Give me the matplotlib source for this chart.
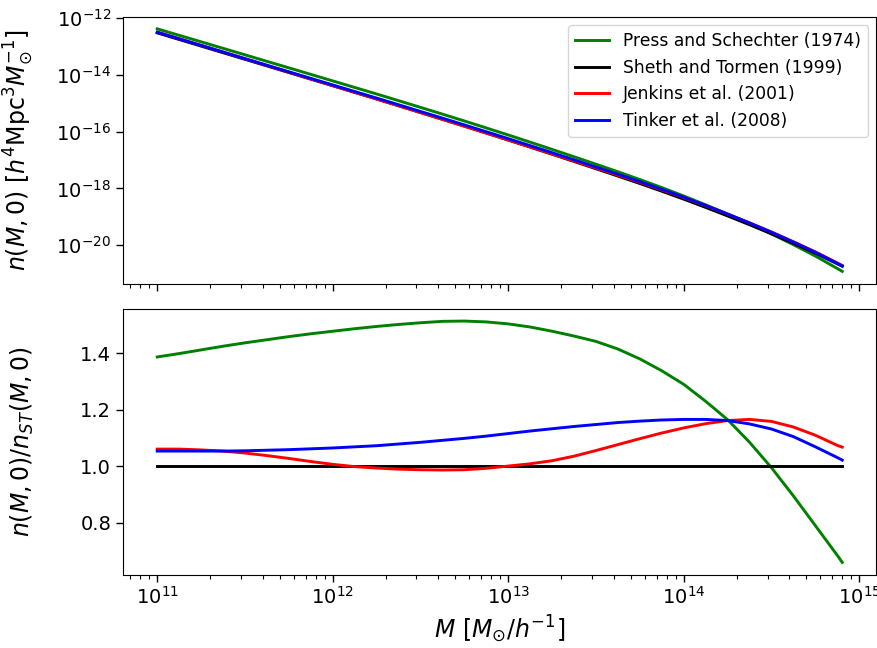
import numpy as np
import matplotlib
matplotlib.use("Agg")
import matplotlib.pyplot as plt
from matplotlib.ticker import LogLocator, NullLocator

# log10 of halo mass M [M_sun / h^-1]
log_mass = [11.0, 11.125, 11.25, 11.375, 11.5, 11.625, 11.75, 11.875,
            12.0, 12.125, 12.25, 12.375, 12.5, 12.625, 12.75, 12.875,
            13.0, 13.125, 13.25, 13.375, 13.5, 13.625, 13.75, 13.875,
            14.0, 14.125, 14.25, 14.375, 14.5, 14.625, 14.75, 14.875, 14.903]

# Sheth & Tormen (1999) mass function, log10 n(M,0)
log_n_st = [-12.53, -12.763, -12.995, -13.228, -13.46, -13.693, -13.925, -14.158,
            -14.39, -14.623, -14.855, -15.092, -15.33, -15.569, -15.81, -16.054,
            -16.30, -16.549, -16.80, -17.054, -17.31, -17.568, -17.83, -18.10,
            -18.38, -18.67, -18.97, -19.28, -19.60, -19.935, -20.28, -20.655, -20.74]

# ratios to Sheth & Tormen
ratio_ps = [1.387, 1.399, 1.412, 1.425, 1.437, 1.448, 1.459, 1.469,
            1.478, 1.487, 1.495, 1.502, 1.508, 1.513, 1.514, 1.511,
            1.504, 1.493, 1.478, 1.461, 1.442, 1.415, 1.380, 1.338,
            1.290, 1.230, 1.165, 1.085, 0.995, 0.895, 0.790, 0.685, 0.660]
ratio_st = [1.0] * 33
ratio_jenkins = [1.061, 1.061, 1.058, 1.054, 1.047, 1.038, 1.028, 1.017,
                 1.007, 0.999, 0.994, 0.990, 0.988, 0.987, 0.988, 0.993,
                 1.001, 1.009, 1.020, 1.036, 1.056, 1.077, 1.098, 1.118,
                 1.136, 1.151, 1.162, 1.166, 1.159, 1.139, 1.110, 1.074, 1.068]
ratio_tinker = [1.054, 1.054, 1.054, 1.054, 1.055, 1.057, 1.059, 1.062,
                1.065, 1.069, 1.073, 1.079, 1.085, 1.092, 1.099, 1.107,
                1.116, 1.125, 1.133, 1.141, 1.148, 1.155, 1.160, 1.164,
                1.166, 1.166, 1.162, 1.150, 1.132, 1.105, 1.069, 1.031, 1.022]

labels = ["Press and Schechter (1974)", "Sheth and Tormen (1999)",
          "Jenkins et al. (2001)", "Tinker et al. (2008)"]
colors = ["green", "black", "red", "blue"]

M = 10.0 ** np.array(log_mass)
n_st = 10.0 ** np.array(log_n_st)
ratios = [np.array(ratio_ps), np.array(ratio_st), np.array(ratio_jenkins), np.array(ratio_tinker)]

W, H = 878, 648
fig = plt.figure(figsize=(W / 100, H / 100), dpi=100)
ax1 = fig.add_axes([123 / W, 1 - 283.5 / H, (876.5 - 123) / W, (283.5 - 16.7) / H])
ax2 = fig.add_axes([123 / W, 1 - 574.5 / H, (876.5 - 123) / W, (574.5 - 309) / H], sharex=ax1)

for r, lab, c in zip(ratios, labels, colors):
    ax1.plot(M, n_st * r, color=c, lw=2.1, label=lab)
    ax2.plot(M, r, color=c, lw=2.1)

ax1.set_xscale("log")
ax1.set_yscale("log")
ax1.yaxis.set_major_locator(LogLocator(base=10, subs=(1.0,), numticks=6))
ax1.yaxis.set_minor_locator(NullLocator())
ax1.tick_params(labelbottom=False)
ax2.set_yticks([0.8, 1.0, 1.2, 1.4])

for ax in (ax1, ax2):
    ax.tick_params(axis="both", which="major", labelsize=14, length=5, width=1)
    ax.tick_params(axis="both", which="minor", length=3, width=0.8)

ax1.set_ylabel(r"$n(M,0)\ [h^4 \mathrm{Mpc}^3 M_{\odot}^{-1}]$", fontsize=17)
ax2.set_ylabel(r"$n(M,0)/n_{ST}(M,0)$", fontsize=17)
ax2.set_xlabel(r"$M\ [M_{\odot}/h^{-1}]$", fontsize=17)
ax1.yaxis.set_label_coords(-0.1155, 0.5)
ax2.yaxis.set_label_coords(-0.1155, 0.5)

ax1.legend(loc="upper right", fontsize=12.3)

fig.savefig("out.png", dpi=100)
